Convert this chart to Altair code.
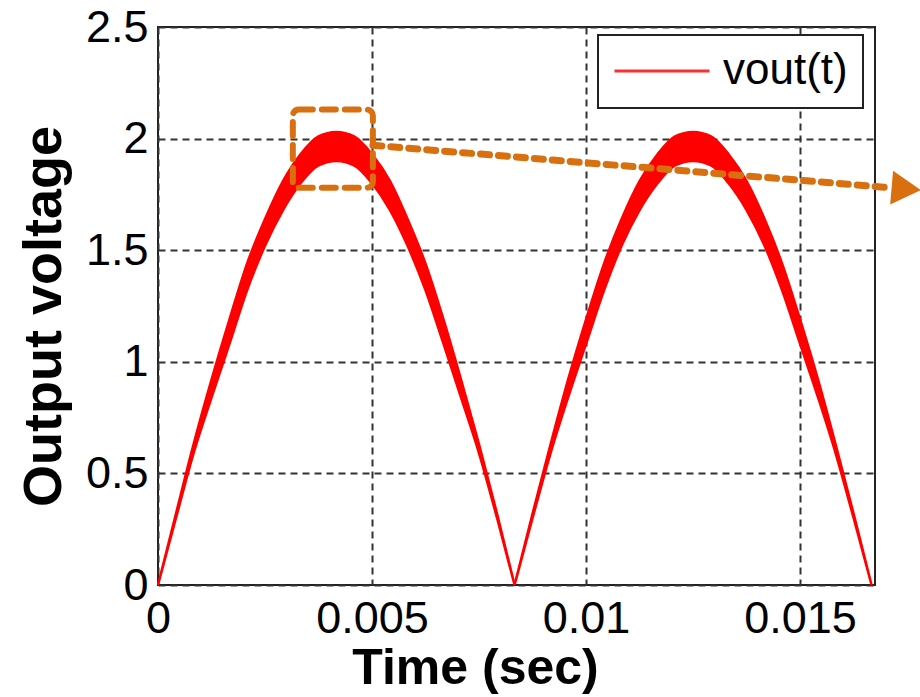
import altair as alt
import pandas as pd

# Envelope of the rippled full-wave rectified output
time_s = [0.00000, 0.00042, 0.00083, 0.00125, 0.00167, 0.00208, 0.00250, 0.00292,
          0.00333, 0.00375, 0.00417, 0.00458, 0.00500, 0.00542, 0.00583, 0.00625,
          0.00667, 0.00708, 0.00750, 0.00792, 0.00833, 0.00875, 0.00917, 0.00958,
          0.01000, 0.01042, 0.01083, 0.01125, 0.01167, 0.01208, 0.01250, 0.01292,
          0.01333, 0.01375, 0.01417, 0.01458, 0.01500, 0.01542, 0.01583, 0.01625,
          0.01667]
v_upper = [0.00, 0.32, 0.63, 0.92, 1.19, 1.44, 1.64, 1.81, 1.93, 2.01, 2.03,
           2.01, 1.93, 1.81, 1.64, 1.44, 1.19, 0.92, 0.63, 0.32, 0.00,
           0.32, 0.63, 0.92, 1.19, 1.44, 1.64, 1.81, 1.93, 2.01, 2.03,
           2.01, 1.93, 1.81, 1.64, 1.44, 1.19, 0.92, 0.63, 0.32, 0.00]
v_lower = [0.00, 0.30, 0.59, 0.84, 1.08, 1.32, 1.52, 1.68, 1.80, 1.88, 1.90,
           1.88, 1.80, 1.68, 1.52, 1.32, 1.08, 0.84, 0.59, 0.30, 0.00,
           0.30, 0.59, 0.84, 1.08, 1.32, 1.52, 1.68, 1.80, 1.88, 1.90,
           1.88, 1.80, 1.68, 1.52, 1.32, 1.08, 0.84, 0.59, 0.30, 0.00]
series_name = ["vout(t)"]

x_ticks = [0, 0.005, 0.01, 0.015]
y_ticks = [0, 0.5, 1, 1.5, 2, 2.5]

# Zoom annotation (orange dashed box and arrow)
box_x = [0.00315]
box_x2 = [0.00502]
box_y = [2.13]
box_y2 = [1.78]
arrow_x = [0.00502, 0.01712]
arrow_y = [1.97, 1.78]
head_x = [0.01748]
head_y = [1.775]

ORANGE = "#D9700F"

# split into the two half-wave humps so each is smoothed separately
rows = []
for hump, (a, b) in enumerate([(0, 21), (20, 41)]):
    for i in range(a, b):
        rows.append({"t": time_s[i], "hi": v_upper[i], "lo": v_lower[i],
                     "series": series_name[0], "hump": hump})
df = pd.DataFrame(rows)
box_df = pd.DataFrame({"x": box_x, "x2": box_x2, "y": box_y, "y2": box_y2})
arrow_df = pd.DataFrame({"x": arrow_x, "y": arrow_y})
head_df = pd.DataFrame({"x": head_x, "y": head_y})

xscale = alt.Scale(domain=[0, 0.01675], nice=False, zero=False)
yscale = alt.Scale(domain=[0, 2.5], nice=False)

xaxis = alt.Axis(values=x_ticks, format="~g", title="Time (sec)",
                 labelFontSize=45, labelPadding=11, ticks=False,
                 titleFontSize=50, titleFontWeight="bold",
                 titleX=317, titleY=98, titleBaseline="alphabetic",
                 titleAlign="center", labelFlush=False)
yaxis = alt.Axis(values=y_ticks, format="~g", title="Output voltage",
                 labelFontSize=45, labelPadding=10, ticks=False,
                 titleFontSize=54, titleFontWeight="bold",
                 titleX=-98, titleY=289, titleBaseline="alphabetic",
                 titleAlign="center", labelFlush=False)

band = alt.Chart(df).mark_area(
    stroke="#ff0000", strokeWidth=2.5, opacity=1, interpolate="monotone"
).encode(
    x=alt.X("t:Q", scale=xscale, axis=xaxis),
    y=alt.Y("hi:Q", scale=yscale, axis=yaxis),
    y2="lo:Q",
    detail="hump:N",
    color=alt.Color("series:N",
                    scale=alt.Scale(domain=series_name, range=["#ff0000"]),
                    legend=alt.Legend(title=None, orient="none",
                                      legendX=440, legendY=8)),
)

box = alt.Chart(box_df).mark_rect(
    fill="transparent", stroke=ORANGE, strokeWidth=6, strokeDash=[14, 9],
    cornerRadius=6, strokeCap="round"
).encode(x="x:Q", x2="x2:Q", y="y:Q", y2="y2:Q")

arrow = alt.Chart(arrow_df).mark_line(
    color=ORANGE, strokeWidth=7, strokeDash=[9, 9], strokeCap="round"
).encode(x="x:Q", y="y:Q")

head = alt.Chart(head_df).mark_point(
    shape="triangle-right", filled=True, color=ORANGE, opacity=1,
    size=1150, angle=5
).encode(x="x:Q", y="y:Q")

chart = alt.layer(band, box, arrow, head).properties(
    width=717, height=558,
    autosize=alt.AutoSizeParams(type="none"),
    padding={"left": 158, "top": 27, "right": 45, "bottom": 112},
    background="white",
).configure_view(
    stroke="#222222", strokeWidth=2
).configure_axis(
    grid=True, gridColor="#333333", gridDash=[7, 5], gridWidth=2, gridOpacity=1,
    domain=False, labelColor="black", titleColor="black",
    labelFont="Liberation Sans", titleFont="Liberation Sans",
).configure_legend(
    fillColor="white", strokeColor="#222222", strokeWidth=2, padding=15,
    symbolType="stroke", symbolStrokeColor="#ff3030", symbolStrokeWidth=3,
    symbolSize=9025, labelFontSize=44, labelFont="Liberation Sans",
    labelColor="black", labelOffset=12, cornerRadius=0, clipHeight=42,
)

chart.save("out.html", embed_options={"renderer": "svg", "actions": False})
